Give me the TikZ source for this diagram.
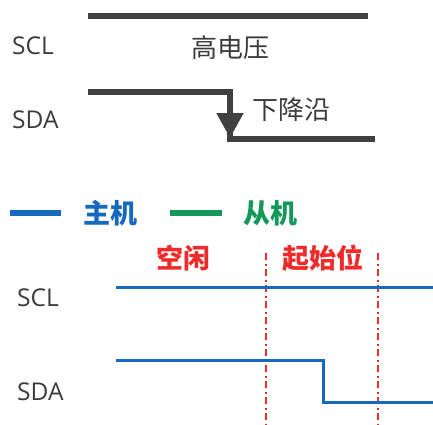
\documentclass[tikz,border=0pt]{standalone}
\usepackage{xcolor}
\usepackage{fontspec}
\usepackage{tikz}
\usetikzlibrary{arrows.meta}
\setmainfont{Open Sans}
\newfontfamily\cjk{Noto Sans CJK SC}
\definecolor{linegray}{HTML}{404040}
\definecolor{textgray}{HTML}{3C3C3C}
\definecolor{hostblue}{HTML}{1769BF}
\definecolor{slavegreen}{HTML}{13985A}
\definecolor{markred}{HTML}{EE2A2A}

\begin{document}
\begin{tikzpicture}[x=1pt,y=-1pt,
    sig/.style={draw=linegray,line width=6.5pt},
    host/.style={draw=hostblue,line width=3pt},
    key/.style={line width=6.5pt},
    pin/.style={text=textgray,font=\fontsize{24.5}{28}\selectfont,anchor=west,inner sep=0pt},
    note/.style={text=textgray,font=\cjk\fontsize{26}{30}\selectfont,inner sep=0pt},
    legend/.style={font=\cjk\bfseries\fontsize{27}{30}\selectfont,inner sep=0pt},
    phase/.style={text=markred,font=\cjk\bfseries\fontsize{27}{30}\selectfont,inner sep=0pt},
    marker/.style={draw=markred,line width=1.5pt,dash pattern=on 7pt off 3.5pt on 2pt off 3.5pt}]
                \useasboundingbox (0,0) rectangle (433,424);
                \node[pin] (sclA) at (12,46) {SCL};
                \node[pin] (sdaA) at (12,120) {SDA};
                \node[note] (high) at (230,48) {高电压};
                \node[note] (fall) at (291,110) {下降沿};
                \coordinate (c0) at (88,16);  \coordinate (c1) at (368,16);
                \coordinate (d0) at (88,92);  \coordinate (d1) at (230,92);
                \coordinate (d2) at (230,139); \coordinate (d3) at (375,139);
                \coordinate (tip) at (230,138);
                \draw[sig] (c0) -- (c1);
                \draw[sig,line join=miter] (d0) -- (d1) -- (d2) -- (d3);
                \draw[sig,line width=5pt,-{Triangle[width=26pt 0,length=25pt 0]}] (d1) -- (tip);
                \coordinate (k0) at (10,213);  \coordinate (k1) at (61,213);
                \coordinate (k2) at (170,213); \coordinate (k3) at (222,213);
                \draw[key,hostblue] (k0) -- (k1);
                \draw[key,slavegreen] (k2) -- (k3);
                \node[legend,text=hostblue] (master) at (110,213) {主机};
                \node[legend,text=slavegreen] (slave) at (270,213) {从机};
                \node[phase] (idle) at (183,258) {空闲};
                \node[phase] (start) at (323,258) {起始位};
                \coordinate (m0) at (266,253); \coordinate (m1) at (266,424);
                \coordinate (n0) at (378,253); \coordinate (n1) at (378,424);
                \draw[marker] (m0) -- (m1) (n0) -- (n1);
                \node[pin] (sclB) at (17,298) {SCL};
                \node[pin] (sdaB) at (17,392) {SDA};
                \coordinate (s0) at (116,287); \coordinate (s1) at (433,287);
                \coordinate (e0) at (116,360); \coordinate (e1) at (323,360);
                \coordinate (e2) at (323,402); \coordinate (e3) at (433,402);
                \draw[host] (s0) -- (s1);
                \draw[host,line join=miter] (e0) -- (e1) -- (e2) -- (e3);
            \end{tikzpicture}
\end{document}
